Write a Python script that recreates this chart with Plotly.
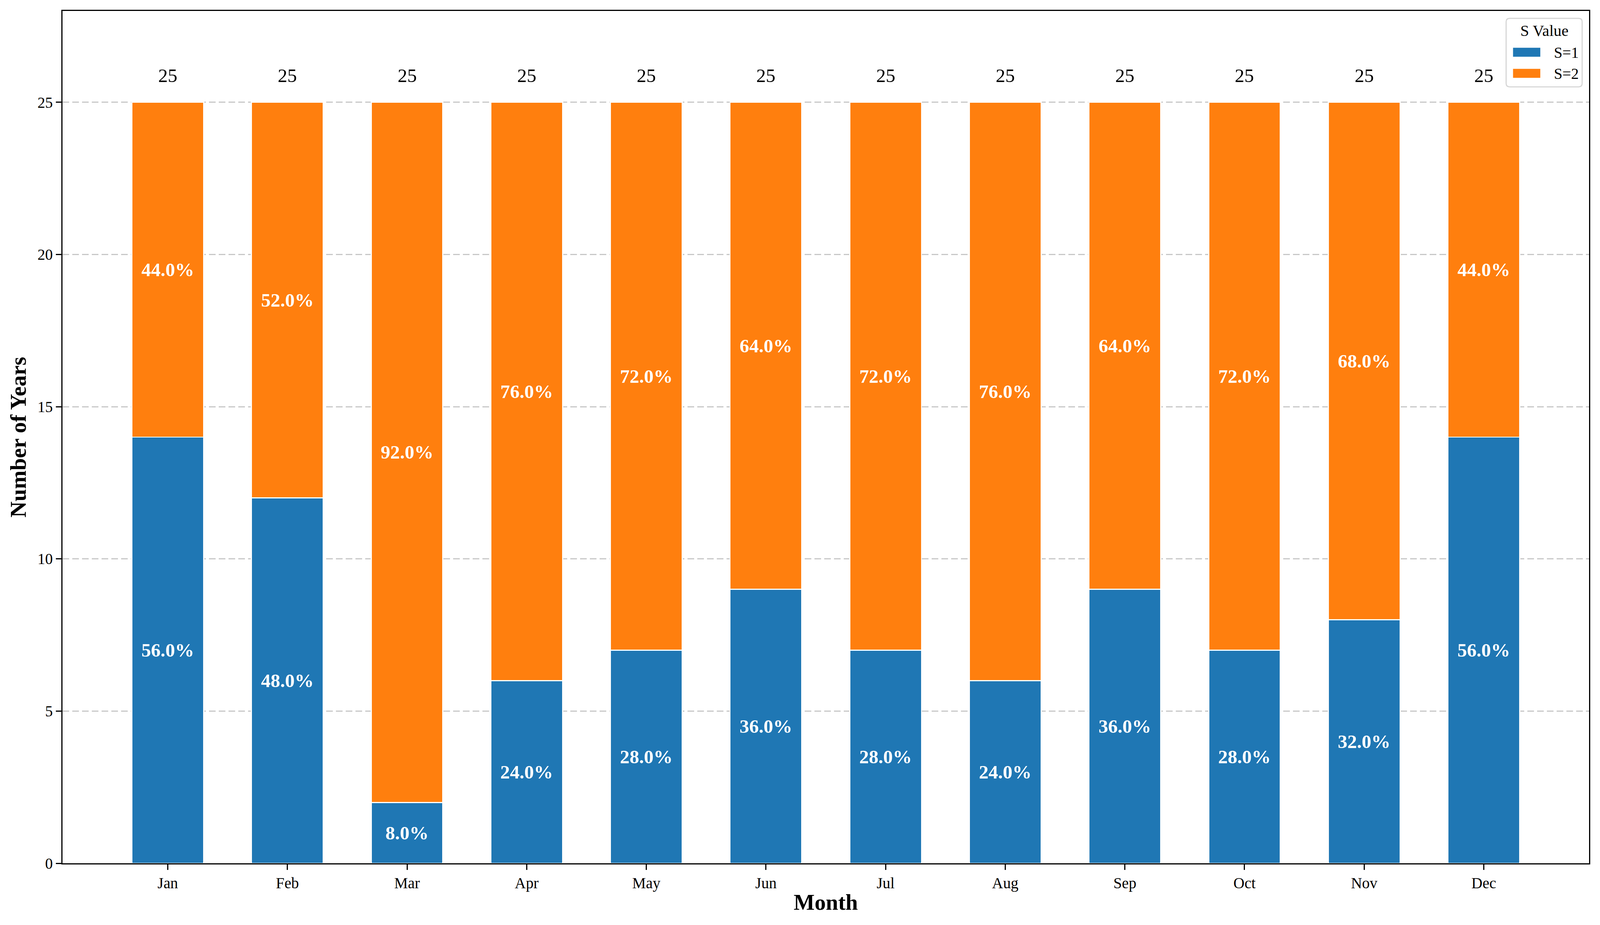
import plotly.graph_objects as go

months = ["Jan", "Feb", "Mar", "Apr", "May", "Jun", "Jul", "Aug", "Sep", "Oct", "Nov", "Dec"]
s1_counts = [14, 12, 2, 6, 7, 9, 7, 6, 9, 7, 8, 14]
s2_counts = [11, 13, 23, 19, 18, 16, 18, 19, 16, 18, 17, 11]
y_ticks = [0, 5, 10, 15, 20, 25]
series_names = ["S=1", "S=2"]
series_colors = ["#1f77b4", "#ff7f0e"]
legend_title = "S Value"

totals = [a + b for a, b in zip(s1_counts, s2_counts)]
s1_pct = [f"{100 * a / t:.1f}%" for a, t in zip(s1_counts, totals)]
s2_pct = [f"{100 * b / t:.1f}%" for b, t in zip(s2_counts, totals)]

FONT = "Liberation Serif"
K = 0.982  # css px per picture px
W, H = 4168, 2368
ML, MR, MT, MB = 163, 29, 29, 161
PW, PH = W - ML - MR, H - MT - MB
x_idx = list(range(len(months)))


def s(v):
    return v * K


def px(x):
    return (x - ML) / PW


def py(y):
    return (H - MB - y) / PH


fig = go.Figure()
for name, vals, txt, col in zip(series_names, [s1_counts, s2_counts], [s1_pct, s2_pct], series_colors):
    fig.add_trace(go.Bar(
        x=x_idx, y=vals, name=name, width=0.6,
        marker=dict(color=col, line=dict(color="white", width=s(3))),
        text=txt, textposition="inside", insidetextanchor="middle",
        constraintext="none", textangle=0,
        textfont=dict(family=FONT, size=s(50), color="white", weight="bold"),
        hoverinfo="skip", showlegend=False,
    ))

for i, t in enumerate(totals):
    fig.add_annotation(x=i, y=t + 0.5, text=str(t), showarrow=False,
                       yanchor="bottom", xanchor="center",
                       font=dict(family=FONT, size=s(50), color="black"))

# legend box (matplotlib-style, rounded frame)
bx0, bx1, by0, by1, r = 3923, 4121, 48, 223, 9
rx, ry = r / PW, r / PH
X0, X1, Yt, Yb = px(bx0), px(bx1), py(by0), py(by1)
path = (f"M {X0 + rx},{Yt} L {X1 - rx},{Yt} Q {X1},{Yt} {X1},{Yt - ry} "
        f"L {X1},{Yb + ry} Q {X1},{Yb} {X1 - rx},{Yb} "
        f"L {X0 + rx},{Yb} Q {X0},{Yb} {X0},{Yb + ry} "
        f"L {X0},{Yt - ry} Q {X0},{Yt} {X0 + rx},{Yt} Z")
fig.add_shape(type="path", path=path, xref="paper", yref="paper",
              fillcolor="rgba(255,255,255,0.8)", line=dict(color="#d6d6d6", width=s(3)), layer="above")
fig.add_annotation(x=px(4022), y=py(79), xref="paper", yref="paper", text=legend_title,
                   showarrow=False, xanchor="center", yanchor="middle",
                   font=dict(family=FONT, size=s(41), color="black"))
for k, (name, col) in enumerate(zip(series_names, series_colors)):
    y0 = 123 + k * 54
    fig.add_shape(type="rect", xref="paper", yref="paper",
                  x0=px(3941), x1=px(4012), y0=py(y0), y1=py(y0 + 23),
                  fillcolor=col, line=dict(width=0), layer="above")
    fig.add_annotation(x=px(4045), y=py(y0 + 12), xref="paper", yref="paper", text=name,
                       showarrow=False, xanchor="left", yanchor="middle",
                       font=dict(family=FONT, size=s(40), color="black"))

fig.update_layout(
    autosize=True,
    margin=dict(l=s(ML), r=s(MR), t=s(MT), b=s(MB), autoexpand=False),
    barmode="stack",
    plot_bgcolor="white", paper_bgcolor="white",
    font=dict(family=FONT, color="black"),
    showlegend=False,
)
fig.update_xaxes(
    range=[-0.88, 11.88], tickmode="array", tickvals=x_idx, ticktext=months,
    showline=True, linecolor="black", linewidth=s(3.5), mirror=True,
    ticks="outside", ticklen=s(14), tickwidth=s(3), tickcolor="black",
    tickfont=dict(family=FONT, size=s(40)), showgrid=False, zeroline=False,
    title=dict(text="Month", font=dict(family=FONT, size=s(58), weight="bold"), standoff=s(8)),
)
fig.update_yaxes(
    range=[0, 28], tickmode="array", tickvals=y_ticks,
    showline=True, linecolor="black", linewidth=s(3.5), mirror=True,
    ticks="outside", ticklen=s(14), tickwidth=s(3), tickcolor="black",
    tickfont=dict(family=FONT, size=s(40)), zeroline=False,
    showgrid=True, gridcolor="#c8c8c8", gridwidth=s(3), griddash="17px,8px",
    title=dict(text="Number of Years", font=dict(family=FONT, size=s(58), weight="bold"), standoff=s(12)),
)

fig.write_html("out.html", default_width="100vw", default_height="100vh",
               config={"displayModeBar": False},
               post_script="document.body.style.margin='0';document.body.style.overflow='hidden';")
